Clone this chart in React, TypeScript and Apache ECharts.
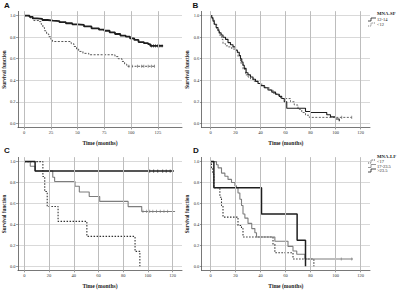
import React, { useEffect, useRef } from "react";
import * as echarts from "echarts";

// ---------- data ----------
const yTicks = [0, 0.2, 0.4, 0.6, 0.8, 1.0];
const xTicksA = [0, 25, 50, 75, 100, 125];
const xTicks20 = [0, 20, 40, 60, 80, 100, 120];

// Panel A (MNA-SF)
const tA_hi = [0, 5, 8, 12, 17, 22, 27, 33, 39, 45, 50, 56, 63, 70, 75, 80, 85, 90, 95, 99, 103, 107, 112, 116, 118];
const sA_hi = [1.0, 0.99, 0.975, 0.97, 0.96, 0.955, 0.95, 0.94, 0.93, 0.92, 0.914, 0.9, 0.883, 0.87, 0.86, 0.845, 0.83, 0.815, 0.806, 0.79, 0.775, 0.755, 0.745, 0.735, 0.72];
const endA_hi = 130;
const censA_hi = [119, 121, 123, 125, 127, 129];

const tA_lo = [0, 6, 9, 14, 16, 17.5, 19, 21, 23, 25, 26.5, 44, 46.5, 49, 51, 55, 60.5, 85, 88, 91.5, 94, 96];
const sA_lo = [1, 0.975, 0.955, 0.945, 0.92, 0.89, 0.86, 0.83, 0.805, 0.78, 0.76, 0.74, 0.714, 0.69, 0.668, 0.65, 0.637, 0.62, 0.6, 0.575, 0.55, 0.53];
const endA_lo = 123;
const censA_lo = [98, 101, 106, 110, 112, 116, 119, 122];

// Panel B (MNA-SF)
const tB_hi = [0, 1, 2, 3, 4.5, 6, 7, 8.5, 10, 12, 14, 16, 18, 20, 21.5, 23, 24, 25, 26, 27, 28.5, 30, 32, 34, 36, 38, 40, 43, 46, 49, 52, 55, 57, 59, 61, 76, 80, 93, 96, 100, 103];
const sB_hi = [1, 0.98, 0.95, 0.92, 0.89, 0.86, 0.84, 0.82, 0.8, 0.78, 0.75, 0.73, 0.71, 0.68, 0.66, 0.63, 0.6, 0.57, 0.54, 0.51, 0.47, 0.45, 0.43, 0.41, 0.39, 0.37, 0.35, 0.33, 0.31, 0.29, 0.27, 0.25, 0.23, 0.2, 0.14, 0.11, 0.1, 0.08, 0.06, 0.04, 0.02];
const endB_hi = 103.5;
const censB_hi: number[] = [];

const tB_lo = [0, 1.5, 3, 5, 7, 9, 10, 12, 14, 17, 20, 22, 24, 26, 28, 30, 32, 35, 38, 41, 44, 47, 50, 53, 56, 64, 67, 70, 73, 76, 79];
const sB_lo = [1, 0.96, 0.92, 0.87, 0.82, 0.78, 0.74, 0.72, 0.71, 0.69, 0.66, 0.62, 0.56, 0.5, 0.45, 0.43, 0.41, 0.39, 0.37, 0.35, 0.33, 0.31, 0.28, 0.26, 0.23, 0.2, 0.17, 0.13, 0.1, 0.075, 0.055];
const endB_lo = 113;
const censB_lo = [105, 113];

// Panel C (MNA-LF)
const tC_low = [0, 15, 16.5, 18.5, 27.3, 50.6, 89.6, 93.5];
const sC_low = [1, 0.857, 0.714, 0.571, 0.429, 0.286, 0.143, 0];
const censC_low: number[] = [];

const tC_mid = [0, 4.8, 8.7, 23, 24.5, 41, 44.5, 52.5, 61, 84, 95];
const sC_mid = [1, 0.955, 0.91, 0.85, 0.81, 0.765, 0.71, 0.667, 0.62, 0.57, 0.524];
const endC_mid = 122;
const censC_mid = [96, 99, 101.5, 104, 107, 110, 113, 116];

const tC_high = [0, 8.7];
const sC_high = [1, 0.909];
const endC_high = 121;
const censC_high = [101.5, 104.7, 108, 112, 114.8, 118];

// Panel D (MNA-LF)
const tD_low = [0, 0.8, 1.8, 2.7, 7.5, 8.8, 10, 22, 24.8, 26, 50, 51.5, 66, 82.7];
const sD_low = [1, 0.94, 0.88, 0.75, 0.66, 0.58, 0.47, 0.39, 0.36, 0.28, 0.21, 0.13, 0.07, 0];
const censD_low: number[] = [];

const tD_mid = [0, 4.8, 6.1, 8.8, 11.5, 14, 16.8, 19.5, 20.8, 22, 23.5, 24.8, 26, 27.5, 30, 33, 35.5, 36.8, 51.5, 62, 66, 69, 75.5];
const sD_mid = [1, 0.97, 0.94, 0.89, 0.86, 0.83, 0.8, 0.77, 0.75, 0.7, 0.64, 0.58, 0.5, 0.46, 0.41, 0.36, 0.32, 0.28, 0.24, 0.19, 0.146, 0.115, 0.07];
const endD_mid = 114;
const censD_mid = [104.6, 113];

const tD_high = [0, 2.7, 40.8, 69.3, 76];
const sD_high = [1, 0.75, 0.5, 0.25, 0];
const censD_high: number[] = [];

// ---------- styling / layout ----------
const SERIF = "'Liberation Serif', 'DejaVu Serif', serif";
const SANS = "'Liberation Sans', Arial, sans-serif";

type Curve = {
  t: number[];
  s: number[];
  end?: number;
  cens: number[];
  color: string;
  width: number;
  dash: any;
};

type Panel = {
  left: number;
  right: number;
  zeroPx: number;
  pxPerUnit: number;
  top: number;
  height: number;
  xTicks: number[];
  yNameGap: number;
  curves: Curve[];
};

const BLACK = "#1e1e1e";
const GRAY = "#7d7d7d";
const GRID_COLOR = "#cfcfcf";
const VGRID_COLOR = "#bdbdbd";

const panels: Panel[] = [
  {
    left: 16.2, right: 182, zeroPx: 22.5, pxPerUnit: 1.08, top: 11.4, height: 116.2, xTicks: xTicksA, yNameGap: 11,
    curves: [
      { t: tA_lo, s: sA_lo, end: endA_lo, cens: censA_lo, color: "#555", width: 1, dash: [2, 1.5] },
      { t: tA_hi, s: sA_hi, end: endA_hi, cens: censA_hi, color: BLACK, width: 1.8, dash: "solid" },
    ],
  },
  {
    left: 201.7, right: 370, zeroPx: 210.5, pxPerUnit: 1.25, top: 11.4, height: 116.2, xTicks: xTicks20, yNameGap: 9.5,
    curves: [
      { t: tB_lo, s: sB_lo, end: endB_lo, cens: censB_lo, color: "#666", width: 1, dash: [2, 1.5] },
      { t: tB_hi, s: sB_hi, end: endB_hi, cens: censB_hi, color: BLACK, width: 1.1, dash: "solid" },
    ],
  },
  {
    left: 16, right: 182, zeroPx: 22.5, pxPerUnit: 1.25, top: 157.4, height: 115.9, xTicks: xTicks20, yNameGap: 11,
    curves: [
      { t: tC_low, s: sC_low, cens: censC_low, color: "#333", width: 1.1, dash: [1.5, 1.5] },
      { t: tC_mid, s: sC_mid, end: endC_mid, cens: censC_mid, color: GRAY, width: 1.1, dash: "solid" },
      { t: tC_high, s: sC_high, end: endC_high, cens: censC_high, color: BLACK, width: 1.5, dash: "solid" },
    ],
  },
  {
    left: 201.7, right: 370, zeroPx: 210.5, pxPerUnit: 1.25, top: 157.4, height: 115.9, xTicks: xTicks20, yNameGap: 9.5,
    curves: [
      { t: tD_low, s: sD_low, cens: censD_low, color: "#333", width: 1.1, dash: [1.5, 1.5] },
      { t: tD_mid, s: sD_mid, end: endD_mid, cens: censD_mid, color: GRAY, width: 1.1, dash: "solid" },
      { t: tD_high, s: sD_high, cens: censD_high, color: BLACK, width: 1.5, dash: "solid" },
    ],
  },
];

function valueAt(t: number[], s: number[], x: number) {
  let v = s[0];
  for (let i = 0; i < t.length; i++) if (t[i] <= x) v = s[i];
  return v;
}

function buildOption() {
  const grid: any[] = [];
  const xAxis: any[] = [];
  const yAxis: any[] = [];
  const series: any[] = [];
  const axisLine = { show: true, onZero: false, lineStyle: { color: "#555", width: 0.8 } };
  panels.forEach((p, i) => {
    const xMin = -(p.zeroPx - p.left) / p.pxPerUnit;
    const xMax = (p.right - p.zeroPx) / p.pxPerUnit;
    grid.push({ left: p.left, top: p.top, width: p.right - p.left, height: p.height });
    xAxis.push({
      type: "value", gridIndex: i, min: xMin, max: xMax,
      axisLine, splitLine: { show: true, lineStyle: { color: VGRID_COLOR, width: 1 } },
      axisTick: { show: true, customValues: p.xTicks, length: 1.8, lineStyle: { color: "#555", width: 0.6 } },
      axisLabel: { customValues: p.xTicks, fontSize: 4.5, margin: 2.2, color: "#333", fontFamily: SERIF },
      name: "Time (months)", nameLocation: "middle", nameGap: 12.5,
      nameTextStyle: { fontSize: 5.6, fontWeight: "bold", fontFamily: SERIF, color: "#222" },
    });
    yAxis.push({
      type: "value", gridIndex: i, min: -0.04, max: 1.04,
      axisLine, splitLine: { show: true, lineStyle: { color: GRID_COLOR, width: 0.8 } },
      axisTick: { show: true, customValues: yTicks, length: 1.8, lineStyle: { color: "#555", width: 0.6 } },
      axisLabel: { customValues: yTicks, fontSize: 4.5, margin: 2.4, color: "#333", fontFamily: SERIF, formatter: (v: number) => v.toFixed(1) },
      name: "Survival function", nameLocation: "middle", nameGap: p.yNameGap,
      nameTextStyle: { fontSize: 5.2, fontWeight: "bold", fontFamily: SERIF, color: "#222" },
    });
    p.curves.forEach((c, ci) => {
      const data: number[][] = c.t.map((t, k) => [t, c.s[k]]);
      if (c.end !== undefined) data.push([c.end, c.s[c.s.length - 1]]);
      const s: any = {
        type: "line", xAxisIndex: i, yAxisIndex: i, step: "end", symbol: "none",
        data, lineStyle: { color: c.color, width: c.width, type: c.dash },
      };
      if (ci === 0) {
        // vertical grid lines placed through the x scale
        s.markLine = {
          symbol: ["none", "none"],
          label: { show: false },
          lineStyle: { color: VGRID_COLOR, width: 1, type: "solid" },
          data: p.xTicks.map((v) => ({ xAxis: v })),
        };
      }
      series.push(s);
      if (c.cens.length) {
        series.push({
          type: "scatter", xAxisIndex: i, yAxisIndex: i, symbol: "rect", symbolSize: [0.8, 3.2],
          data: c.cens.map((x) => [x, valueAt(c.t, c.s, x)]),
          itemStyle: { color: c.color },
        });
      }
    });
  });

  const panelLabel = (text: string, x: number, y: number) => ({
    type: "text", x, y,
    style: { text, fontSize: 8, fontWeight: "bold", fontFamily: SANS, fill: "#111", textVerticalAlign: "top" },
  });
  const legendText = (text: string, x: number, y: number, bold = false) => ({
    type: "text", x, y,
    style: { text, fontSize: bold ? 4.8 : 4.5, fontWeight: bold ? "bold" : "normal", fontFamily: SERIF, fill: "#222", textVerticalAlign: "middle" },
  });
  const legendIcon = (x: number, y: number, color: string, dash: any, width: number) => ({
    type: "polyline",
    shape: { points: [[x, y + 1.5], [x + 3, y + 1.5], [x + 3, y - 1.5], [x + 8, y - 1.5]] },
    style: { stroke: color, lineWidth: width, fill: "none", lineDash: dash === "solid" ? null : dash },
  });

  const graphic: any[] = [
    panelLabel("A", 4, 1),
    panelLabel("B", 192.5, 1),
    panelLabel("C", 4, 146.5),
    panelLabel("D", 193, 146.5),
    legendText("MNA-SF", 377, 13, true),
    legendIcon(368, 19.5, BLACK, "solid", 0.8),
    legendText("12-14", 377, 19.5),
    legendIcon(368, 24.5, "#666", [1.2, 1], 0.8),
    legendText("<12", 377, 24.5),
    legendText("MNA-LF", 377, 156.5, true),
    legendIcon(368, 161.5, "#333", [1.2, 1], 0.8),
    legendText("<17", 377, 161.5),
    legendIcon(368, 166, GRAY, "solid", 0.8),
    legendText("17-23.5", 377, 166),
    legendIcon(368, 170.5, BLACK, "solid", 0.8),
    legendText(">23.5", 377, 170.5),
  ];

  return { animation: false, backgroundColor: "#ffffff", grid, xAxis, yAxis, series, graphic };
}

export default function App() {
  const ref = useRef<HTMLDivElement>(null);
  useEffect(() => {
    if (!ref.current) return;
    const chart = echarts.init(ref.current, undefined, { renderer: "svg" });
    chart.setOption(buildOption() as any);
    return () => chart.dispose();
  }, []);
  return <div ref={ref} style={{ position: "fixed", left: 0, top: 0, width: 400, height: 290, background: "#fff" }} />;
}
